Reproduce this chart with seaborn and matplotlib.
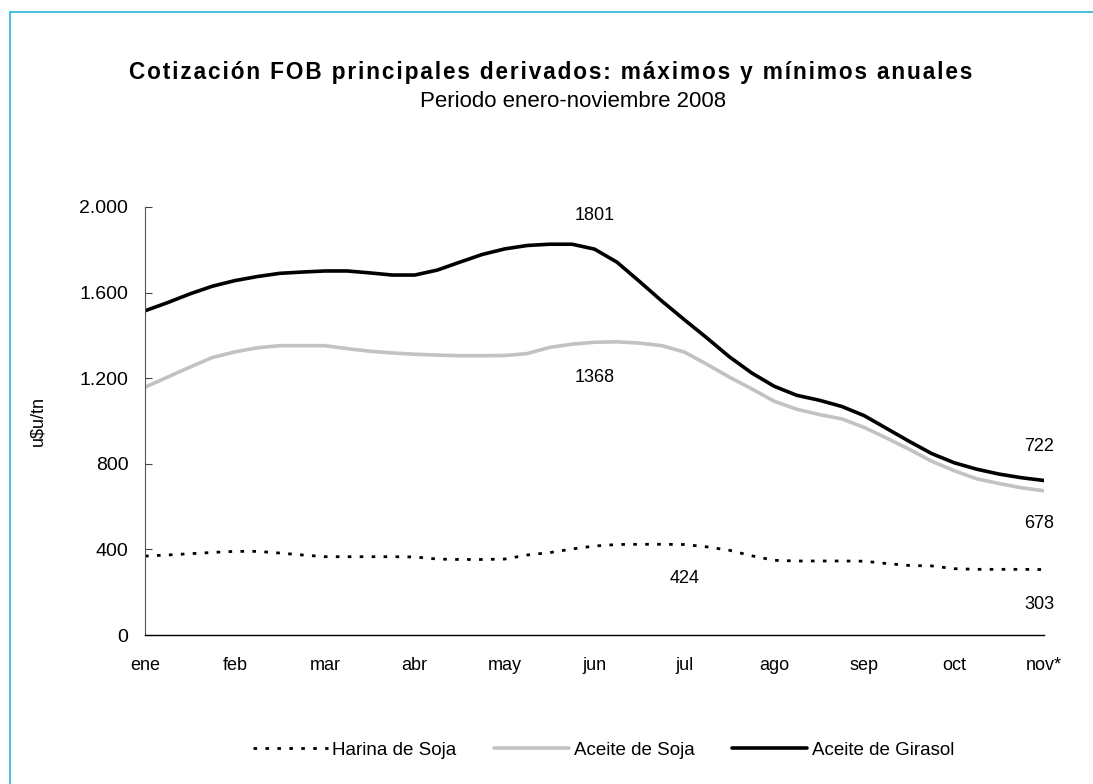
import numpy as np
import pandas as pd
import matplotlib.pyplot as plt
import seaborn as sns
from matplotlib.lines import Line2D

# meses del eje x y series (aprox. 4 puntos por mes)
meses = ['ene', 'feb', 'mar', 'abr', 'may', 'jun', 'jul', 'ago', 'sep', 'oct', 'nov*']

harina_soja = [369, 374, 380, 386, 391, 391, 383, 374, 366, 366, 366, 366, 365,
               355, 353, 353, 355, 374, 385, 402, 416, 423, 424, 424, 423, 412,
               396, 370, 349, 346, 346, 346, 345, 334, 325, 323, 310, 307, 307,
               307, 306]

aceite_soja = [1158, 1205, 1252, 1297, 1323, 1342, 1352, 1352, 1352, 1338, 1326,
               1318, 1312, 1308, 1305, 1305, 1306, 1315, 1344, 1359, 1368, 1370,
               1364, 1352, 1322, 1265, 1205, 1150, 1092, 1055, 1030, 1010, 970,
               920, 868, 812, 768, 730, 708, 688, 674]

aceite_girasol = [1515, 1553, 1594, 1630, 1656, 1675, 1690, 1696, 1701, 1701, 1692,
                  1682, 1682, 1705, 1742, 1778, 1804, 1820, 1826, 1826, 1803, 1742,
                  1652, 1560, 1473, 1388, 1300, 1224, 1162, 1120, 1097, 1068, 1025,
                  965, 905, 848, 805, 775, 752, 735, 722]

# etiquetas de maximos y minimos (mes, valor rotulado, posicion vertical del texto)
etiq_mes = [5, 5, 6, 10, 10, 10]
etiq_valor = [1801, 1368, 424, 722, 678, 303]
etiq_y = [1962, 1204, 265, 879, 521, 144]

t = np.arange(len(aceite_girasol)) / 4.0
df = pd.DataFrame({'t': t, 'Harina de Soja': harina_soja,
                   'Aceite de Soja': aceite_soja,
                   'Aceite de Girasol': aceite_girasol})

sns.set_theme(style='white')
plt.rcParams['font.family'] = ['Liberation Sans', 'DejaVu Sans']
plt.rcParams.update({'text.color': 'black', 'axes.labelcolor': 'black',
                     'xtick.color': 'black', 'ytick.color': 'black'})

fig = plt.figure(figsize=(10.93, 7.84), dpi=100)
ax = fig.add_axes([0.1327, 0.190, 0.8225, 0.546])

estilos = {
    'Harina de Soja': dict(color='black', lw=2.0, ls=(0, (1.3, 3.0))),
    'Aceite de Soja': dict(color='#c2c2c2', lw=2.6, ls='-'),
    'Aceite de Girasol': dict(color='black', lw=2.6, ls='-'),
}
for serie, st in estilos.items():
    sns.lineplot(data=df, x='t', y=serie, ax=ax, color=st['color'],
                 linewidth=st['lw'], linestyle=st['ls'], label=serie)

ax.get_legend().remove()

ax.set_xlim(0, 10)
ax.set_ylim(0, 2000)
ax.set_xticks(range(len(meses)))
ax.set_xticklabels(meses)
ax.set_yticks([0, 400, 800, 1200, 1600, 2000])
ax.set_yticklabels([f'{v:,.0f}'.replace(',', '.') for v in [0, 400, 800, 1200, 1600, 2000]])
ax.tick_params(axis='y', direction='in', length=5, width=0.8, color='#444444',
               pad=12, labelsize=14, left=True)
ax.tick_params(axis='x', length=0, pad=16, labelsize=13)
ax.set_xlabel('')
ax.set_ylabel('u$u/tn', fontsize=13, labelpad=24)

for s in ['top', 'right']:
    ax.spines[s].set_visible(False)
ax.spines['left'].set_color('#555555')
ax.spines['left'].set_linewidth(0.8)
ax.spines['bottom'].set_color('black')
ax.spines['bottom'].set_linewidth(1.0)

for m, v, y in zip(etiq_mes, etiq_valor, etiq_y):
    ax.text(m - 0.05 if m == 10 else m, y, str(v), ha='center', va='center',
            fontsize=13, clip_on=False)

titulo = 'Cotización FOB principales derivados: máximos y mínimos anuales'
fig.text(0.504, 0.908, '\u200a'.join(titulo), ha='center', va='center',
         fontsize=16.3, fontweight='bold')
fig.text(0.524, 0.871, 'Periodo enero-noviembre 2008', ha='center', va='center',
         fontsize=16)

handles = [Line2D([], [], color=st['color'], lw=st['lw'], ls=st['ls']) for st in estilos.values()]
fig.legend(handles, list(estilos.keys()), loc='center', bbox_to_anchor=(0.552, 0.0434),
           ncol=3, frameon=False, fontsize=13.5, handlelength=4.0, handletextpad=0.25,
           columnspacing=2.0)

# marco celeste (solo lados izquierdo y superior visibles)
borde = '#2ab4d8'
fig.add_artist(Line2D([0.0087, 0.0087], [0, 0.9847], color=borde, lw=1.2, transform=fig.transFigure))
fig.add_artist(Line2D([0.0087, 1.0], [0.9847, 0.9847], color=borde, lw=1.2, transform=fig.transFigure))

plt.savefig('out.png', dpi=100)
